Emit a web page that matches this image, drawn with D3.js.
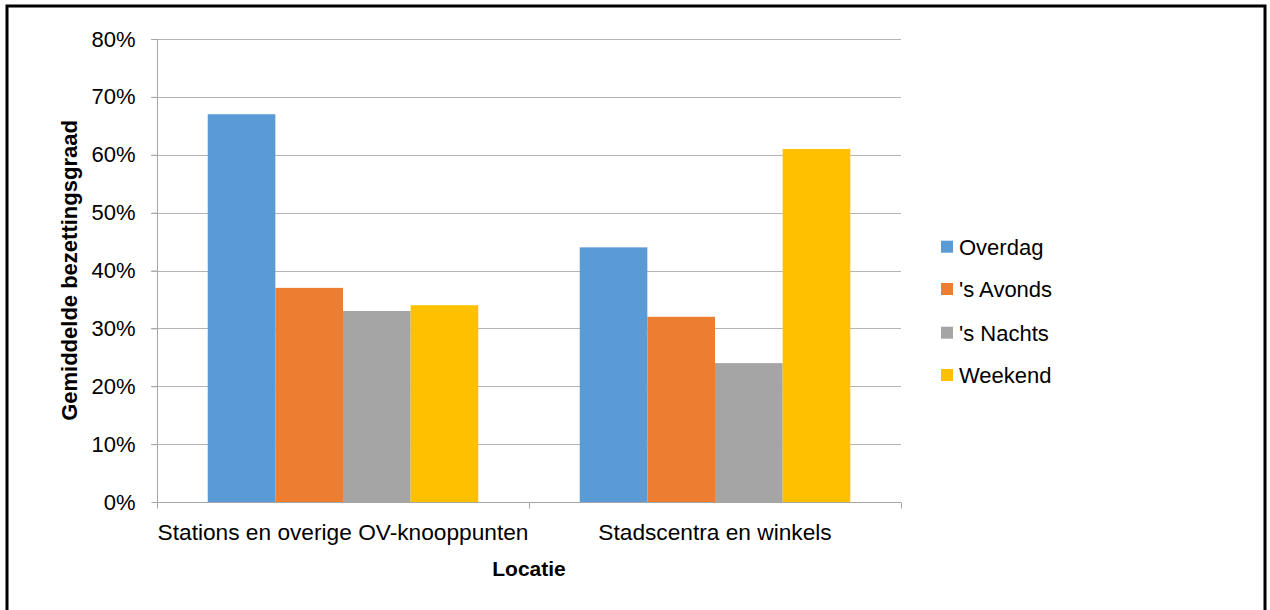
<!DOCTYPE html>
<html>
<head>
<meta charset="utf-8">
<script src="https://cdn.jsdelivr.net/npm/d3@7/dist/d3.min.js"></script>
<style>
  html, body { margin: 0; padding: 0; background: #fff; }
  svg { display: block; }
  text { font-family: "Liberation Sans", Arial, sans-serif; fill: #000; }
</style>
</head>
<body>
<svg id="chart" width="1270" height="610"></svg>
<script>
const categories = ["Stations en overige OV-knooppunten", "Stadscentra en winkels"];
const seriesNames = ["Overdag", "'s Avonds", "'s Nachts", "Weekend"];
const overdag = [0.67, 0.44];
const avonds  = [0.37, 0.32];
const nachts  = [0.33, 0.24];
const weekend = [0.34, 0.61];
const seriesColors = ["#5B9BD5", "#ED7D31", "#A5A5A5", "#FFC000"];
const yTicks = [0, 0.1, 0.2, 0.3, 0.4, 0.5, 0.6, 0.7, 0.8];
const yTitle = "Gemiddelde bezettingsgraad";
const xTitle = "Locatie";

(function () {
const seriesValues = [overdag, avonds, nachts, weekend];
const rows = categories.map((c, i) => ({
  cat: c,
  vals: seriesNames.map((s, j) => ({ s, v: seriesValues[j][i], color: seriesColors[j] }))
}));

const svg = d3.select("#chart");

// outer frame
svg.append("rect").attr("x", 7).attr("y", 6).attr("width", 1258).attr("height", 640)
  .attr("fill", "none").attr("stroke", "#000").attr("stroke-width", 3);

const pLeft = 157, pRight = 901, pTop = 39, pBottom = 502;

const y = d3.scaleLinear().domain([0, 0.8]).range([pBottom, pTop]);
const x = d3.scaleBand().domain(categories).range([pLeft, pRight]).paddingInner(0).paddingOuter(0);
const xs = d3.scaleBand().domain(seriesNames).range([0, x.bandwidth()]).paddingInner(0).paddingOuter(0.75);

// gridlines
svg.append("g").selectAll("line").data(yTicks.filter(t => t > 0)).join("line")
  .attr("x1", pLeft - 6).attr("x2", pRight)
  .attr("y1", d => Math.round(y(d)) + 0.5).attr("y2", d => Math.round(y(d)) + 0.5)
  .attr("stroke", "#b4b4b4").attr("stroke-width", 1);

// y axis
const yAxis = d3.axisLeft(y).tickValues(yTicks).tickFormat(d3.format(".0%")).tickSize(6).tickPadding(16);
const gy = svg.append("g").attr("transform", `translate(${pLeft + 0.5},0)`).call(yAxis);
gy.select(".domain").attr("stroke", "#a6a6a6").attr("d", `M0,${pTop}V${pBottom}`);
gy.selectAll(".tick line").attr("stroke", "#a6a6a6");
gy.selectAll(".tick text").attr("font-size", 22).attr("font-family", "Liberation Sans, Arial, sans-serif").attr("fill", "#000");

// bars
const groups = svg.append("g").selectAll("g").data(rows).join("g")
  .attr("transform", d => `translate(${x(d.cat)},0)`);
groups.selectAll("rect").data(d => d.vals).join("rect")
  .attr("x", d => xs(d.s))
  .attr("width", xs.bandwidth())
  .attr("y", d => y(d.v))
  .attr("height", d => y(0) - y(d.v))
  .attr("fill", d => d.color);

// x axis
const xAxis = d3.axisBottom(x).tickSize(0).tickPadding(21);
const gx = svg.append("g").attr("transform", `translate(0,${pBottom + 0.5})`).call(xAxis);
gx.select(".domain").attr("stroke", "#a6a6a6").attr("d", `M${pLeft},0H${pRight}`);
gx.selectAll(".tick text").attr("font-size", 22.7).attr("font-family", "Liberation Sans, Arial, sans-serif").attr("fill", "#000");
const boundaries = categories.map(c => x(c)).concat([x(categories[categories.length - 1]) + x.bandwidth()]);
gx.append("g").selectAll("line").data(boundaries).join("line")
  .attr("x1", d => Math.round(d) + 0.5).attr("x2", d => Math.round(d) + 0.5)
  .attr("y1", 0).attr("y2", 6).attr("stroke", "#a6a6a6");

// axis titles
svg.append("text").attr("transform", `translate(77,${(pTop + pBottom) / 2}) rotate(-90)`)
  .attr("text-anchor", "middle").attr("font-size", 22).attr("font-weight", "bold").text(yTitle);
svg.append("text").attr("x", (pLeft + pRight) / 2).attr("y", 576)
  .attr("text-anchor", "middle").attr("font-size", 21).attr("font-weight", "bold").text(xTitle);

// legend
const legendY = [246.7, 289, 332.7, 375];
const lg = svg.append("g").selectAll("g").data(seriesNames).join("g")
  .attr("transform", (d, i) => `translate(941,${legendY[i]})`);
lg.append("rect").attr("x", 0).attr("y", -6).attr("width", 12).attr("height", 12)
  .attr("fill", (d, i) => seriesColors[i]);
lg.append("text").attr("x", 18).attr("dy", "0.36em").attr("font-size", 22).text(d => d);
})();
</script>
</body>
</html>
